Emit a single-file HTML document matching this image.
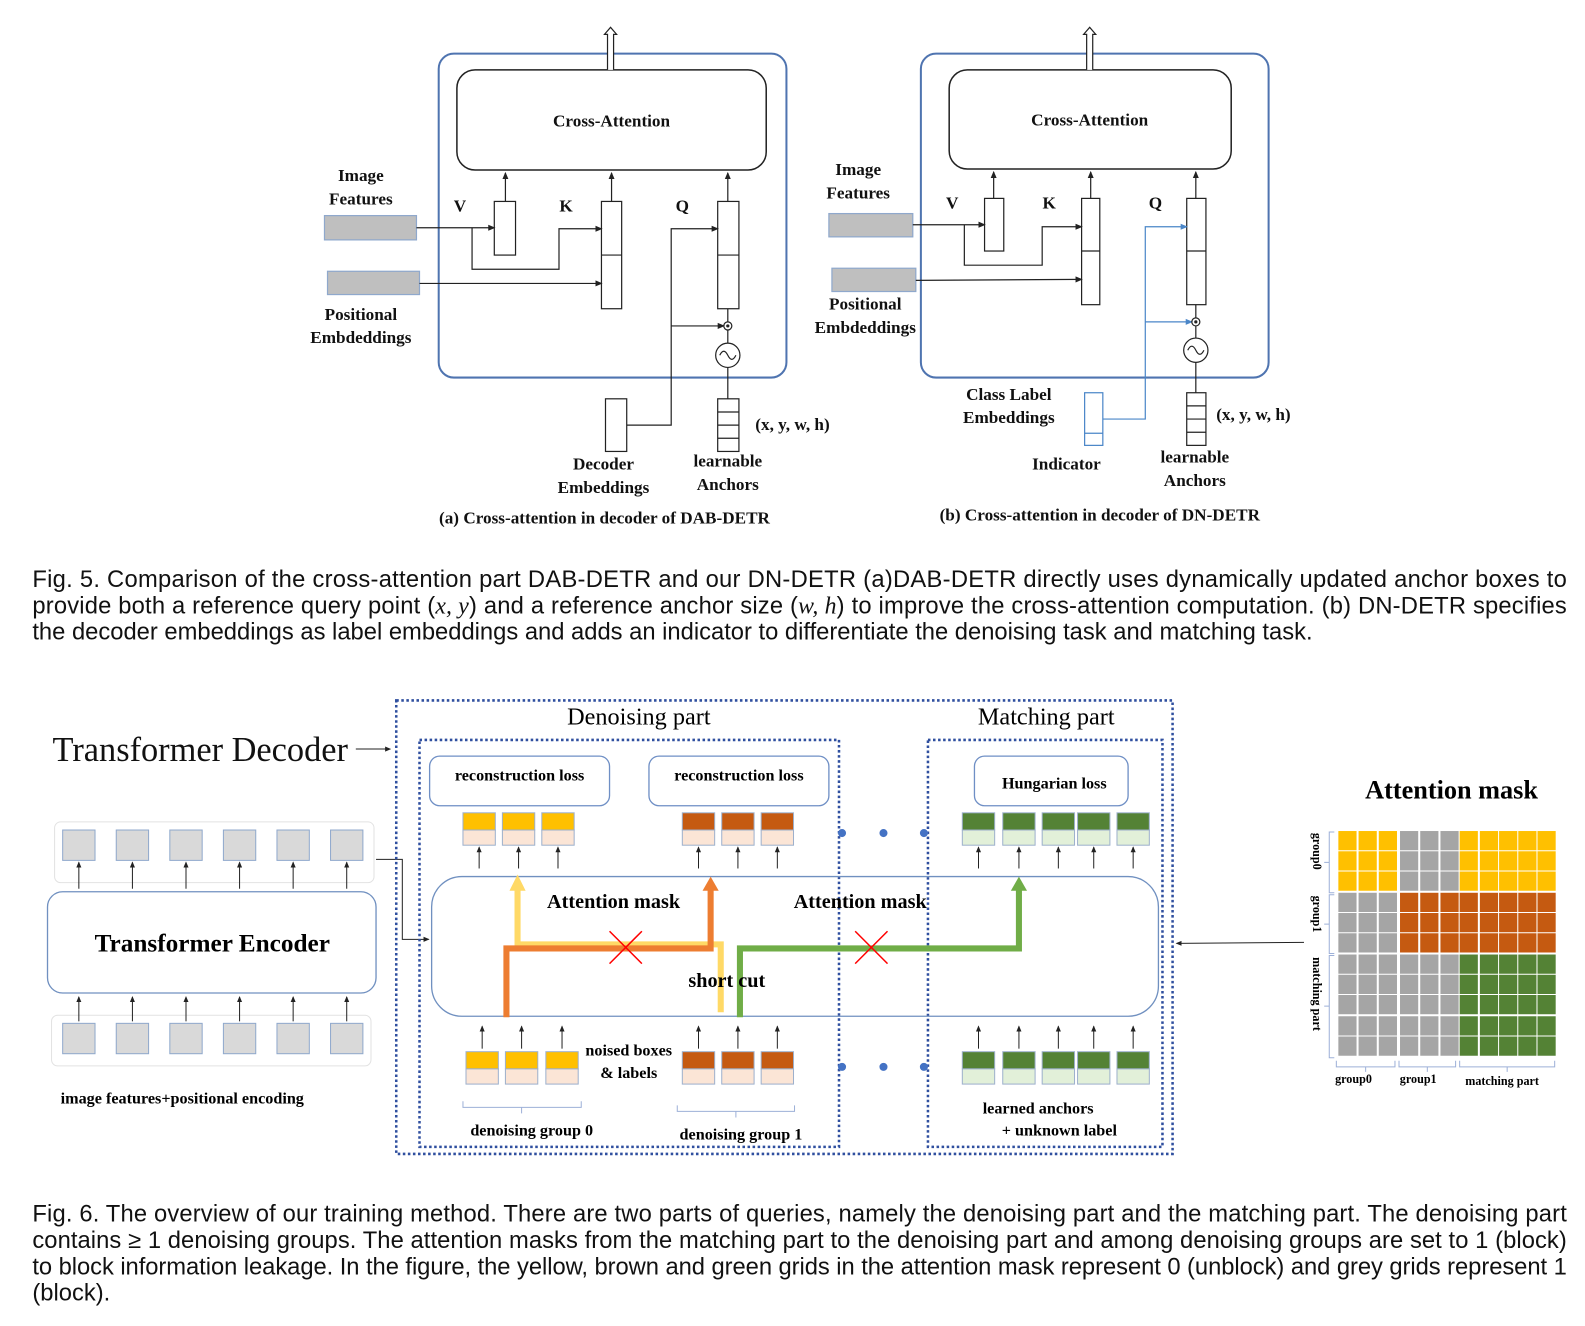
<!DOCTYPE html>
<html><head><meta charset="utf-8"><style>
html,body{margin:0;padding:0;background:#fff;}
svg{display:block;}
.s{font-family:"Liberation Serif",serif;font-weight:bold;}
.r{font-family:"Liberation Serif",serif;}
.c{font-family:"Liberation Sans",sans-serif;font-size:23.5px;fill:#111;}
</style></head><body>
<svg width="1585" height="1326" viewBox="0 0 1568 1310" preserveAspectRatio="none" xmlns="http://www.w3.org/2000/svg">
<defs>
<marker id="a" markerWidth="6" markerHeight="6" refX="5" refY="3" orient="auto"><path d="M0,0.5L6,3L0,5.5z" fill="#222"/></marker>
<marker id="ab" markerWidth="6" markerHeight="6" refX="5" refY="3" orient="auto"><path d="M0,0.5L6,3L0,5.5z" fill="#4a86c8"/></marker>
</defs>
<g stroke="#222" stroke-width="1.2" fill="none">
<rect x="434" y="53" width="344" height="320" rx="15" stroke="#4f74b0" stroke-width="2"/>
<rect x="452" y="69" width="306" height="99" rx="18" stroke-width="1.5"/>
<path d="M601,69V34H598L604,27L610,34H607V69" fill="#fff"/>
<rect x="489" y="199" width="21" height="53"/>
<rect x="595" y="199" width="20" height="106"/><line x1="595" y1="252" x2="615" y2="252"/>
<rect x="710" y="199" width="21" height="106"/><line x1="710" y1="252" x2="731" y2="252"/>
<line x1="500" y1="199" x2="500" y2="171" marker-end="url(#a)"/>
<line x1="605" y1="199" x2="605" y2="171" marker-end="url(#a)"/>
<line x1="720" y1="199" x2="720" y2="171" marker-end="url(#a)"/>
<rect x="321" y="213" width="91" height="24" fill="#bfbfbf" stroke="#8fa8cc"/>
<rect x="324" y="268" width="91" height="23" fill="#bfbfbf" stroke="#8fa8cc"/>
<line x1="412" y1="225" x2="489" y2="225" marker-end="url(#a)"/>
<path d="M467,225V266H553V226H595" marker-end="url(#a)"/>
<line x1="415" y1="280" x2="595" y2="280" marker-end="url(#a)"/>
<path d="M620,420H664V226H710" marker-end="url(#a)"/>
<line x1="664" y1="322" x2="716" y2="322" marker-end="url(#a)"/>
<circle cx="720" cy="322" r="4"/><circle cx="720" cy="322" r="1" fill="#222"/>
<circle cx="720" cy="351" r="12"/><path d="M712,351q4,-8 8,0t8,0"/>
<line x1="720" y1="339" x2="720" y2="326"/><line x1="720" y1="318" x2="720" y2="305"/>
<line x1="720" y1="394" x2="720" y2="363"/>
<rect x="599" y="394" width="21" height="52"/>
<rect x="710" y="394" width="21" height="52"/>
<line x1="710" y1="407" x2="731" y2="407"/><line x1="710" y1="420" x2="731" y2="420"/><line x1="710" y1="433" x2="731" y2="433"/>
<rect x="911" y="53" width="344" height="320" rx="15" stroke="#4f74b0" stroke-width="2"/>
<rect x="939" y="69" width="279" height="98" rx="18" stroke-width="1.5"/>
<path d="M1075,69V34H1072L1078,27L1084,34H1081V69" fill="#fff"/>
<rect x="974" y="196" width="19" height="52"/>
<rect x="1070" y="196" width="18" height="105"/><line x1="1070" y1="248" x2="1088" y2="248"/>
<rect x="1174" y="196" width="19" height="105"/><line x1="1174" y1="248" x2="1193" y2="248"/>
<line x1="983" y1="196" x2="983" y2="170" marker-end="url(#a)"/>
<line x1="1079" y1="196" x2="1079" y2="170" marker-end="url(#a)"/>
<line x1="1183" y1="196" x2="1183" y2="170" marker-end="url(#a)"/>
<rect x="820" y="211" width="83" height="23" fill="#bfbfbf" stroke="#8fa8cc"/>
<rect x="823" y="265" width="83" height="23" fill="#bfbfbf" stroke="#8fa8cc"/>
<line x1="903" y1="222" x2="974" y2="222" marker-end="url(#a)"/>
<path d="M954,222V262H1031V224H1070" marker-end="url(#a)"/>
<line x1="906" y1="277" x2="1070" y2="276" marker-end="url(#a)"/>
<g stroke="#4a86c8"><path d="M1091,414H1133V224H1174" marker-end="url(#ab)"/>
<line x1="1133" y1="318" x2="1179" y2="318" marker-end="url(#ab)"/>
<rect x="1073" y="388" width="18" height="52"/><line x1="1073" y1="428" x2="1091" y2="428"/></g>
<circle cx="1183" cy="318" r="4"/><circle cx="1183" cy="318" r="1" fill="#222"/>
<circle cx="1183" cy="346" r="12"/><path d="M1175,346q4,-8 8,0t8,0"/>
<line x1="1183" y1="334" x2="1183" y2="322"/><line x1="1183" y1="314" x2="1183" y2="301"/>
<line x1="1183" y1="388" x2="1183" y2="358"/>
<rect x="1174" y="388" width="19" height="52"/>
<line x1="1174" y1="401" x2="1193" y2="401"/><line x1="1174" y1="414" x2="1193" y2="414"/><line x1="1174" y1="427" x2="1193" y2="427"/>
</g>
<g class="s" font-size="17" fill="#111" text-anchor="middle">
<text x="605" y="125">Cross-Attention</text><text x="1078" y="124">Cross-Attention</text>
<text x="455" y="209">V</text><text x="560" y="209">K</text><text x="675" y="209">Q</text>
<text x="942" y="206">V</text><text x="1038" y="206">K</text><text x="1143" y="206">Q</text>
<text x="357" y="179">Image</text><text x="357" y="202">Features</text>
<text x="357" y="316">Positional</text><text x="357" y="339">Embdeddings</text>
<text x="597" y="464">Decoder</text><text x="597" y="487">Embeddings</text>
<text x="720" y="461">learnable</text><text x="720" y="484">Anchors</text>
<text x="784" y="425">(x, y, w, h)</text>
<text x="598" y="517">(a) Cross-attention in decoder of  DAB-DETR</text>
<text x="849" y="173">Image</text><text x="849" y="196">Features</text>
<text x="856" y="306">Positional</text><text x="856" y="329">Embdeddings</text>
<text x="998" y="395">Class Label</text><text x="998" y="418">Embeddings</text>
<text x="1055" y="464">Indicator</text>
<text x="1182" y="457">learnable</text><text x="1182" y="480">Anchors</text>
<text x="1240" y="415">(x, y, w, h)</text>
<text x="1088" y="514">(b) Cross-attention in decoder of  DN-DETR</text>
</g>
<text class="c" x="32" y="580" textLength="1518" lengthAdjust="spacing">Fig. 5. Comparison of the cross-attention part DAB-DETR and our DN-DETR (a)DAB-DETR directly uses dynamically updated anchor boxes to</text>
<text class="c" x="32" y="606" textLength="1518" lengthAdjust="spacing">provide both a reference query point (<tspan font-family="Liberation Serif" font-style="italic">x, y</tspan>) and a reference anchor size (<tspan font-family="Liberation Serif" font-style="italic">w, h</tspan>) to improve the cross-attention computation. (b) DN-DETR specifies</text>
<text class="c" x="32" y="632">the decoder embeddings as label embeddings and adds an indicator to differentiate the denoising task and matching task.</text>

<text class="r" x="52" y="752" font-size="34" fill="#111">Transformer Decoder</text>
<line x1="352" y1="740" x2="386" y2="740" stroke="#222" marker-end="url(#a)"/>
<g stroke="#222" stroke-width="1" fill="none">
<rect x="54" y="812" width="316" height="60" rx="6" stroke="#e2e2e2"/>
<rect x="51" y="1003" width="316" height="50" rx="6" stroke="#e2e2e2"/>
<rect x="47" y="881" width="325" height="100" rx="15" stroke="#7090c0" stroke-width="1.3"/>
<path d="M372,849H398V928H424" marker-end="url(#a)"/>
<line x1="1290" y1="931" x2="1164" y2="932" marker-end="url(#a)"/>
</g>
<g fill="#d9d9d9" stroke="#8fa8cc">
<rect x="62" y="820" width="32" height="30"/><rect x="115" y="820" width="32" height="30"/><rect x="168" y="820" width="32" height="30"/><rect x="221" y="820" width="32" height="30"/><rect x="274" y="820" width="32" height="30"/><rect x="327" y="820" width="32" height="30"/>
<rect x="62" y="1011" width="32" height="30"/><rect x="115" y="1011" width="32" height="30"/><rect x="168" y="1011" width="32" height="30"/><rect x="221" y="1011" width="32" height="30"/><rect x="274" y="1011" width="32" height="30"/><rect x="327" y="1011" width="32" height="30"/>
</g>
<g stroke="#222" stroke-width="1">
<line x1="78" y1="878" x2="78" y2="852" marker-end="url(#a)"/><line x1="131" y1="878" x2="131" y2="852" marker-end="url(#a)"/><line x1="184" y1="878" x2="184" y2="852" marker-end="url(#a)"/><line x1="237" y1="878" x2="237" y2="852" marker-end="url(#a)"/><line x1="290" y1="878" x2="290" y2="852" marker-end="url(#a)"/><line x1="343" y1="878" x2="343" y2="852" marker-end="url(#a)"/>
<line x1="78" y1="1009" x2="78" y2="985" marker-end="url(#a)"/><line x1="131" y1="1009" x2="131" y2="985" marker-end="url(#a)"/><line x1="184" y1="1009" x2="184" y2="985" marker-end="url(#a)"/><line x1="237" y1="1009" x2="237" y2="985" marker-end="url(#a)"/><line x1="290" y1="1009" x2="290" y2="985" marker-end="url(#a)"/><line x1="343" y1="1009" x2="343" y2="985" marker-end="url(#a)"/>
</g>
<text class="s" x="210" y="940" font-size="25" text-anchor="middle">Transformer Encoder</text>
<text class="s" x="60" y="1090" font-size="16">image features+positional encoding</text>

<g fill="none" stroke="#2f4f9f" stroke-width="2.5" stroke-dasharray="2.5,2.5">
<rect x="392" y="692" width="768" height="448"/>
<rect x="415" y="731" width="415" height="402"/>
<rect x="918" y="731" width="232" height="402"/>
</g>
<text class="r" x="632" y="716" font-size="24" text-anchor="middle">Denoising part</text>
<text class="r" x="1035" y="716" font-size="24" text-anchor="middle">Matching part</text>
<g fill="#fff" stroke="#6f8fc5" stroke-width="1.3">
<rect x="425" y="747" width="178" height="49" rx="10"/><rect x="642" y="747" width="178" height="49" rx="10"/><rect x="964" y="747" width="152" height="49" rx="10"/>
</g>
<g class="s" font-size="16" text-anchor="middle">
<text x="514" y="771">reconstruction loss</text><text x="731" y="771">reconstruction loss</text><text x="1043" y="779">Hungarian loss</text>
</g>
<rect x="427" y="866" width="719" height="138" rx="30" fill="none" stroke="#7090c0" stroke-width="1.3"/>
<g stroke="#9db0cc" stroke-width="1">
<g fill="#ffc000"><rect x="458" y="803" width="32" height="17"/><rect x="497" y="803" width="32" height="17"/><rect x="536" y="803" width="32" height="17"/><rect x="461" y="1039" width="32" height="17"/><rect x="500" y="1039" width="32" height="17"/><rect x="540" y="1039" width="32" height="17"/></g>
<g fill="#c55a11"><rect x="675" y="803" width="32" height="17"/><rect x="714" y="803" width="32" height="17"/><rect x="753" y="803" width="32" height="17"/><rect x="675" y="1039" width="32" height="17"/><rect x="714" y="1039" width="32" height="17"/><rect x="753" y="1039" width="32" height="17"/></g>
<g fill="#fbe5d6"><rect x="458" y="820" width="32" height="15"/><rect x="497" y="820" width="32" height="15"/><rect x="536" y="820" width="32" height="15"/><rect x="461" y="1056" width="32" height="15"/><rect x="500" y="1056" width="32" height="15"/><rect x="540" y="1056" width="32" height="15"/><rect x="675" y="820" width="32" height="15"/><rect x="714" y="820" width="32" height="15"/><rect x="753" y="820" width="32" height="15"/><rect x="675" y="1056" width="32" height="15"/><rect x="714" y="1056" width="32" height="15"/><rect x="753" y="1056" width="32" height="15"/></g>
<g fill="#548235"><rect x="952" y="803" width="32" height="17"/><rect x="992" y="803" width="32" height="17"/><rect x="1031" y="803" width="32" height="17"/><rect x="1066" y="803" width="32" height="17"/><rect x="1105" y="803" width="32" height="17"/><rect x="952" y="1039" width="32" height="17"/><rect x="992" y="1039" width="32" height="17"/><rect x="1031" y="1039" width="32" height="17"/><rect x="1066" y="1039" width="32" height="17"/><rect x="1105" y="1039" width="32" height="17"/></g>
<g fill="#e2f0d9"><rect x="952" y="820" width="32" height="15"/><rect x="992" y="820" width="32" height="15"/><rect x="1031" y="820" width="32" height="15"/><rect x="1066" y="820" width="32" height="15"/><rect x="1105" y="820" width="32" height="15"/><rect x="952" y="1056" width="32" height="15"/><rect x="992" y="1056" width="32" height="15"/><rect x="1031" y="1056" width="32" height="15"/><rect x="1066" y="1056" width="32" height="15"/><rect x="1105" y="1056" width="32" height="15"/></g>
</g>
<g stroke="#222" stroke-width="1">
<line x1="474" y1="858" x2="474" y2="837" marker-end="url(#a)"/><line x1="513" y1="858" x2="513" y2="837" marker-end="url(#a)"/><line x1="552" y1="858" x2="552" y2="837" marker-end="url(#a)"/>
<line x1="691" y1="858" x2="691" y2="837" marker-end="url(#a)"/><line x1="730" y1="858" x2="730" y2="837" marker-end="url(#a)"/><line x1="769" y1="858" x2="769" y2="837" marker-end="url(#a)"/>
<line x1="968" y1="858" x2="968" y2="837" marker-end="url(#a)"/><line x1="1008" y1="858" x2="1008" y2="837" marker-end="url(#a)"/><line x1="1047" y1="858" x2="1047" y2="837" marker-end="url(#a)"/><line x1="1082" y1="858" x2="1082" y2="837" marker-end="url(#a)"/><line x1="1121" y1="858" x2="1121" y2="837" marker-end="url(#a)"/>
<line x1="477" y1="1036" x2="477" y2="1014" marker-end="url(#a)"/><line x1="516" y1="1036" x2="516" y2="1014" marker-end="url(#a)"/><line x1="556" y1="1036" x2="556" y2="1014" marker-end="url(#a)"/>
<line x1="691" y1="1036" x2="691" y2="1014" marker-end="url(#a)"/><line x1="730" y1="1036" x2="730" y2="1014" marker-end="url(#a)"/><line x1="769" y1="1036" x2="769" y2="1014" marker-end="url(#a)"/>
<line x1="968" y1="1036" x2="968" y2="1014" marker-end="url(#a)"/><line x1="1008" y1="1036" x2="1008" y2="1014" marker-end="url(#a)"/><line x1="1047" y1="1036" x2="1047" y2="1014" marker-end="url(#a)"/><line x1="1082" y1="1036" x2="1082" y2="1014" marker-end="url(#a)"/><line x1="1121" y1="1036" x2="1121" y2="1014" marker-end="url(#a)"/>
</g>
<g fill="#4472c4"><circle cx="833" cy="823" r="4"/><circle cx="874" cy="823" r="4"/><circle cx="914" cy="823" r="4"/><circle cx="833" cy="1054" r="4"/><circle cx="874" cy="1054" r="4"/><circle cx="914" cy="1054" r="4"/></g>
<g fill="none" stroke-width="6">
<path d="M713,1000V933H512V878" stroke="#ffd966"/>
<path d="M501,1005V937H703V878" stroke="#ed7d31"/>
<path d="M732,1005V937H1008V878" stroke="#70ad47"/>
</g>
<path d="M504,880L512,864L520,880z" fill="#ffd966"/>
<path d="M695,880L703,866L711,880z" fill="#ed7d31"/>
<path d="M1000,880L1008,866L1016,880z" fill="#70ad47"/>
<g stroke="#ff0000" stroke-width="1.5"><path d="M603,920L635,952M635,920L603,952"/><path d="M846,920L878,952M878,920L846,952"/></g>
<g class="s" font-size="20" text-anchor="middle">
<text x="607" y="897">Attention mask</text><text x="851" y="897">Attention mask</text><text x="719" y="975">short cut</text>
</g>
<g class="s" font-size="16" text-anchor="middle">
<text x="622" y="1043">noised boxes</text><text x="622" y="1065">&amp; labels</text>
<text x="526" y="1122">denoising group 0</text><text x="733" y="1126">denoising group 1</text>
<text x="1027" y="1100">learned anchors</text><text x="1048" y="1122">+ unknown label</text>
</g>
<g fill="none" stroke="#9db0d8" stroke-width="1">
<path d="M458,1088v6h117v-6M516,1094v6"/><path d="M670,1092v6h116v-6M728,1098v6"/>
<path d="M1320,822h-5v60h5M1315,852h-5"/><path d="M1320,884h-5v58h5M1315,913h-5"/><path d="M1320,944h-5v101h5M1315,994h-5"/>
<path d="M1322,1048v6h58v-6M1351,1054v5"/><path d="M1384,1048v6h56v-6M1412,1054v5"/><path d="M1444,1048v6h94v-6M1491,1054v5"/>
</g>
<text class="s" x="1436" y="789" font-size="26" text-anchor="middle">Attention mask</text>
<g class="s" font-size="12">
<text transform="translate(1299,841) rotate(90)" text-anchor="middle">group0</text>
<text transform="translate(1299,903) rotate(90)" text-anchor="middle">group1</text>
<text transform="translate(1299,982) rotate(90)" text-anchor="middle">matching part</text>
<text x="1339" y="1070" text-anchor="middle">group0</text><text x="1403" y="1070" text-anchor="middle">group1</text><text x="1486" y="1072" text-anchor="middle">matching part</text>
</g>
<g id="grid"></g>
<script>
(function(){var g=document.getElementById('grid'),ns='http://www.w3.org/2000/svg';
var xs=[1324,1344,1364,1385,1405,1425,1444,1464,1483,1502,1521];
var ys=[821,841,861,882,902,922,943,963,983,1004,1024];
for(var r=0;r<11;r++)for(var c=0;c<11;c++){var col;
if(r<3)col=(c>=3&&c<6)?'#a5a5a5':'#ffc000';else if(r<6)col=(c<3)?'#a5a5a5':'#c55a11';else col=(c<6)?'#a5a5a5':'#548235';
var e=document.createElementNS(ns,'rect');e.setAttribute('x',xs[c]);e.setAttribute('y',ys[r]);e.setAttribute('width',18);e.setAttribute('height',19);e.setAttribute('fill',col);g.appendChild(e);}})();
</script>
<text class="c" x="32" y="1207" textLength="1518" lengthAdjust="spacing">Fig. 6. The overview of our training method. There are two parts of queries, namely the denoising part and the matching part. The denoising part</text>
<text class="c" x="32" y="1233" textLength="1518" lengthAdjust="spacing">contains ≥ 1 denoising groups. The attention masks from the matching part to the denoising part and among denoising groups are set to 1 (block)</text>
<text class="c" x="32" y="1259" textLength="1518" lengthAdjust="spacing">to block information leakage. In the figure, the yellow, brown and green grids in the attention mask represent 0 (unblock) and grey grids represent 1</text>
<text class="c" x="32" y="1285">(block).</text>
</svg>
</body></html>
